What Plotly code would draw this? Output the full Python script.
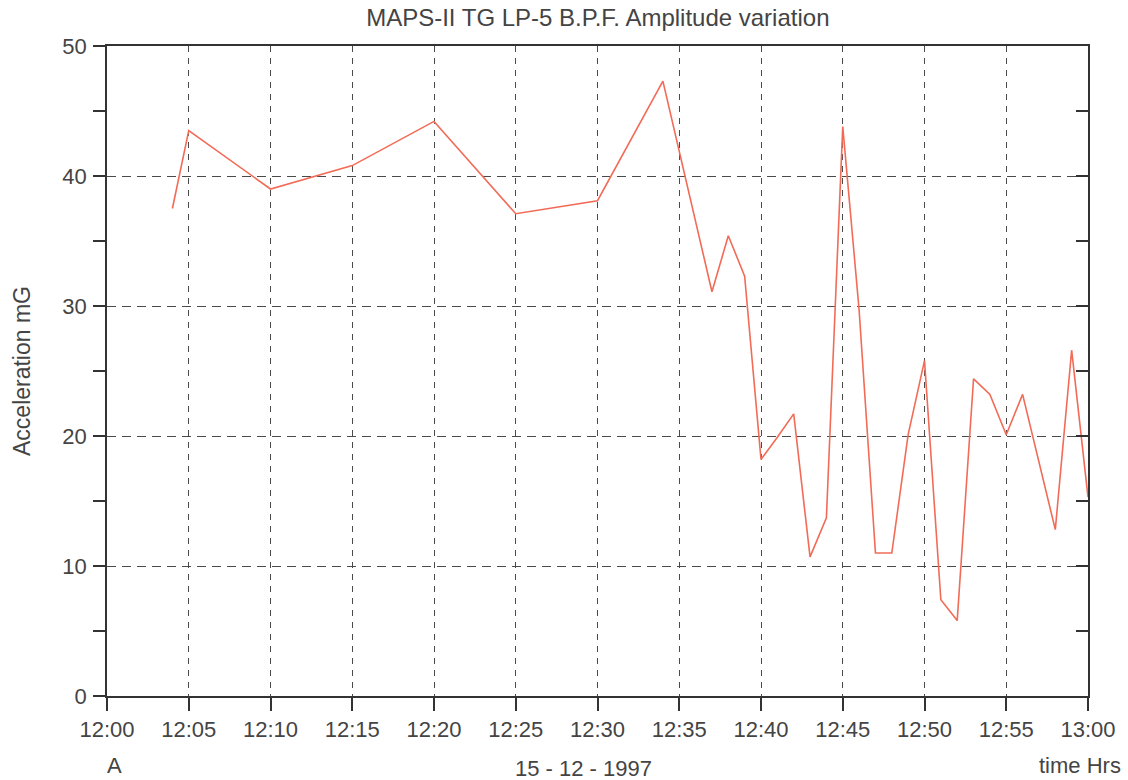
import plotly.graph_objects as go

# Data (15-12-1997, time in HH:MM)
times = ["12:04", "12:05", "12:10", "12:15", "12:20", "12:25", "12:30", "12:34",
         "12:37", "12:38", "12:39", "12:40", "12:41", "12:42", "12:43", "12:44",
         "12:45", "12:46", "12:47", "12:48", "12:49", "12:50", "12:51", "12:52",
         "12:53", "12:54", "12:55", "12:56", "12:58", "12:59", "13:00"]
accel_mg = [37.5, 43.5, 39.0, 40.8, 44.2, 37.1, 38.1, 47.3,
            31.1, 35.4, 32.3, 18.2, 19.9, 21.7, 10.7, 13.7,
            43.8, 29.7, 11.0, 11.0, 20.1, 25.8, 7.4, 5.8,
            24.4, 23.2, 20.1, 23.2, 12.8, 26.6, 15.3]

date = "1997-12-15"
x_vals = [f"{date} {t}:00" for t in times]
x_range = [f"{date} 12:00:00", f"{date} 13:00:00"]
y_range = [0, 50]

font_family = "Liberation Sans, Arial, sans-serif"
ax_color = "#333333"
txt_color = "#444444"
grid_color = "#4a4a4a"

fig = go.Figure()
fig.add_trace(go.Scatter(x=x_vals, y=accel_mg, mode="lines",
                         line=dict(color="#f26b57", width=1.6),
                         showlegend=False, hoverinfo="x+y"))
# invisible trace so the right-hand (inside ticks) axis is drawn
fig.add_trace(go.Scatter(x=[x_vals[0]], y=[accel_mg[0]], yaxis="y2",
                         mode="markers", marker=dict(opacity=0),
                         showlegend=False, hoverinfo="skip"))

fig.update_layout(
    width=1128, height=780,
    margin=dict(l=107, r=38, t=46, b=84),
    paper_bgcolor="white", plot_bgcolor="white",
    font=dict(family=font_family, color=txt_color, size=22),
    title=dict(text="MAPS-II TG LP-5 B.P.F. Amplitude variation",
               x=0.53, xanchor="center", y=0.978, yanchor="middle",
               font=dict(size=24, color=txt_color)),
    xaxis=dict(type="date", range=x_range, tickformat="%H:%M",
               dtick=5 * 60 * 1000, tick0=x_range[0],
               showgrid=True, gridcolor=grid_color, griddash="6px,6px", gridwidth=1,
               showline=True, linecolor=ax_color, linewidth=1.5, mirror=True,
               ticks="outside", ticklen=13, tickwidth=1.5, tickcolor=ax_color,
               tickfont=dict(size=22, color=txt_color), zeroline=False,
               fixedrange=True),
    yaxis=dict(range=y_range, dtick=10, tick0=0,
               showgrid=True, gridcolor=grid_color, griddash="9px,6px", gridwidth=1,
               showline=True, linecolor=ax_color, linewidth=1.5, mirror=True,
               ticks="outside", ticklen=12, tickwidth=1.5, tickcolor=ax_color,
               minor=dict(dtick=5, ticks="outside", ticklen=12, tickcolor=ax_color,
                          showgrid=False),
               tickfont=dict(size=22, color=txt_color), zeroline=False,
               ticklabelstandoff=2,
               title=dict(text="Acceleration mG", font=dict(size=23, color=txt_color),
                          standoff=25),
               fixedrange=True),
    yaxis2=dict(range=y_range, overlaying="y", side="right", dtick=5, tick0=0,
                ticks="inside", ticklen=12, tickwidth=1.5, tickcolor=ax_color,
                showticklabels=False, showgrid=False, zeroline=False,
                showline=False, fixedrange=True),
    annotations=[
        dict(text="A", xref="paper", yref="paper", x=0.008, y=-0.107,
             xanchor="center", yanchor="middle", showarrow=False,
             font=dict(size=22, color=txt_color)),
        dict(text="15 - 12 - 1997", xref="paper", yref="paper", x=0.486, y=-0.111,
             xanchor="center", yanchor="middle", showarrow=False,
             font=dict(size=22, color=txt_color)),
        dict(text="time Hrs", xref="paper", yref="paper", x=1.036, y=-0.107,
             xanchor="right", yanchor="middle", showarrow=False,
             font=dict(size=22, color=txt_color)),
    ],
)

fig.write_html("out.html")
